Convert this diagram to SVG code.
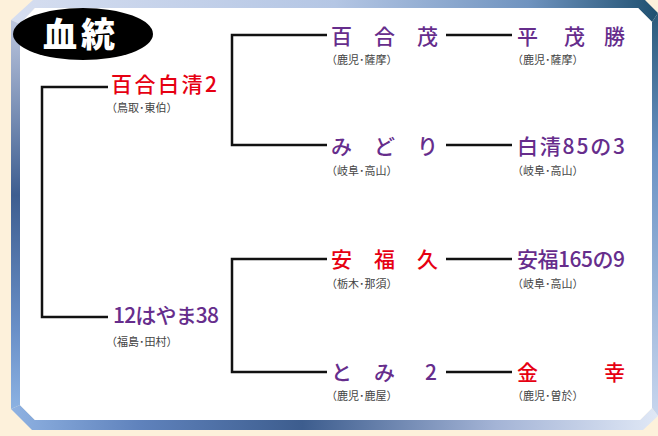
<svg xmlns="http://www.w3.org/2000/svg" width="658" height="436" viewBox="0 0 658 436">
<defs>
<linearGradient id="gTop" x1="0" y1="0" x2="1" y2="0">
<stop offset="0" stop-color="#d6def0"/><stop offset="0.5" stop-color="#b4c6e4"/><stop offset="0.8" stop-color="#6f93bf"/><stop offset="1" stop-color="#1f5070"/>
</linearGradient>
<linearGradient id="gRight" x1="0" y1="0" x2="0" y2="1">
<stop offset="0" stop-color="#2a5a7a"/><stop offset="0.35" stop-color="#6a92c4"/><stop offset="1" stop-color="#c8d6ee"/>
</linearGradient>
<linearGradient id="gBottom" x1="0" y1="0" x2="1" y2="0">
<stop offset="0" stop-color="#8fb2e2"/><stop offset="0.2" stop-color="#5f82bc"/><stop offset="0.45" stop-color="#3d5d8e"/><stop offset="0.75" stop-color="#a4b4d6"/><stop offset="1" stop-color="#e0e8f6"/>
</linearGradient>
<linearGradient id="gLeft" x1="0" y1="0" x2="0" y2="1">
<stop offset="0" stop-color="#bcc6de"/><stop offset="0.45" stop-color="#3e5e90"/><stop offset="0.8" stop-color="#6a90c8"/><stop offset="1" stop-color="#8cb2e2"/>
</linearGradient>
<style>
.nm{font-family:"Noto Sans CJK JP","Noto Sans",sans-serif;font-size:21px;font-weight:500}
.red{fill:#e60012}
.pur{fill:#662d8c}
.sub{font-family:"Noto Sans CJK JP","Noto Sans",sans-serif;font-size:11px;fill:#444444}
.ln{fill:none;stroke:#111111;stroke-width:2.5}
</style>
</defs>
<rect x="0" y="0" width="658" height="436" fill="#fdf1db"/>
<g id="frame">
<polygon points="11,20 33,0 645,0 658,13 652,22 638,8 35,8 20,24" fill="url(#gTop)"/>
<polygon points="658,13 658,416 652,408 652,22" fill="url(#gRight)"/>
<polygon points="658,416 643,430 32,430 11,409 20,405 35,420 640,420 652,408" fill="url(#gBottom)"/>
<polygon points="11,20 20,24 20,405 11,409" fill="url(#gLeft)"/>
<polygon points="35,8 638,8 652,22 652,408 640,420 35,420 20,405 20,24" fill="#ffffff"/>
</g>
<g id="title">
<ellipse cx="83" cy="34" rx="70" ry="26" fill="#000000"/>
<text x="43" y="47" font-family="Noto Sans CJK JP,sans-serif" font-size="34" font-weight="900" fill="#ffffff" letter-spacing="4">血統</text>
</g>
<g id="connectors">
<polyline class="ln" points="108,87 42,87 42,317 108,317"/>
<polyline class="ln" points="327,35 232,35 232,145 327,145"/>
<polyline class="ln" points="327,259 232,259 232,372 327,372"/>
<line class="ln" x1="446" y1="35" x2="512" y2="35"/>
<line class="ln" x1="446" y1="145" x2="512" y2="145"/>
<line class="ln" x1="446" y1="259" x2="512" y2="259"/>
<line class="ln" x1="446" y1="372" x2="512" y2="372"/>
</g>
<g id="sire">
<text class="nm red" x="111" y="92" textLength="106" lengthAdjust="spacing">百合白清2</text>
<text class="sub" x="106" y="112">（鳥取･東伯）</text>
</g>
<g id="dam">
<text class="nm pur" x="113" y="323" textLength="106" lengthAdjust="spacing">12はやま38</text>
<text class="sub" x="106" y="346">（福島･田村）</text>
</g>
<g id="ss">
<text class="nm pur" x="331 374 417" y="44">百合茂</text>
<text class="sub" x="326" y="64">（鹿児･薩摩）</text>
</g>
<g id="sd">
<text class="nm pur" x="331 374 417" y="154">みどり</text>
<text class="sub" x="326" y="175">（岐阜･高山）</text>
</g>
<g id="ds">
<text class="nm red" x="331 374 417" y="267">安福久</text>
<text class="sub" x="326" y="288">（栃木･那須）</text>
</g>
<g id="dd">
<text class="nm pur" x="331 374 425" y="380">とみ2</text>
<text class="sub" x="326" y="400">（鹿児･鹿屋）</text>
</g>
<g id="sss">
<text class="nm pur" x="517 564 604" y="44">平茂勝</text>
<text class="sub" x="512" y="64">（鹿児･薩摩）</text>
</g>
<g id="sds">
<text class="nm pur" x="517" y="154" textLength="108" lengthAdjust="spacing">白清85の3</text>
<text class="sub" x="512" y="175">（岐阜･高山）</text>
</g>
<g id="dss">
<text class="nm pur" x="517" y="267" textLength="108" lengthAdjust="spacing">安福165の9</text>
<text class="sub" x="512" y="288">（岐阜･高山）</text>
</g>
<g id="dds">
<text class="nm red" x="517 604" y="380">金幸</text>
<text class="sub" x="512" y="400">（鹿児･曽於）</text>
</g>
</svg>
